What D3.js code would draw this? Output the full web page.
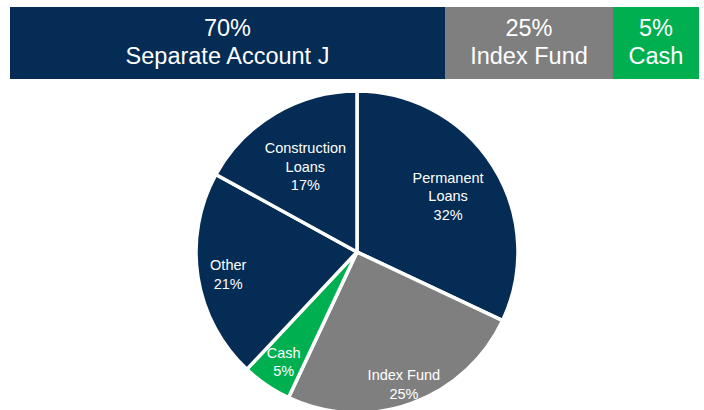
<!DOCTYPE html>
<html>
<head>
<meta charset="utf-8">
<script src="https://cdn.jsdelivr.net/npm/d3@7"></script>
<style>
  html, body { margin: 0; padding: 0; background: #ffffff; }
  svg { display: block; }
  text { font-family: "Liberation Sans", Arial, sans-serif; fill: #ffffff; }
</style>
</head>
<body>
<svg id="chart" width="704" height="410"></svg>
<script>
// Top-level allocation bar
const barCategories = ["Separate Account J", "Index Fund", "Cash"];
const barValues = [70, 25, 5];

// Breakdown pie (clockwise from 12 o'clock)
const pieCategories = [["Permanent", "Loans"], ["Index Fund"], ["Cash"], ["Other"], ["Construction", "Loans"]];
const pieValues = [32, 25, 5, 21, 17];

const navy = "#052c55", gray = "#7f7f7f", green = "#00b050";
const barColors = [navy, gray, green];
const pieColors = [navy, gray, green, navy, navy];
// How far out along each slice's bisector its label sits (fraction of radius)
const labelRadiusFrac = [0.67, 0.86, 0.81, 0.81, 0.63];

const svg = d3.select("#chart");

// ---- allocation bar ----
// Segments are sized for legibility: cumulative share is mapped piecewise so the
// narrow segments still hold their labels.
const cum = [0];
barValues.forEach(v => cum.push(cum[cum.length - 1] + v));
const x = d3.scaleLinear().domain(cum).range([10, 445, 613, 699]);
const barTop = 7, barH = 72;

const seg = svg.append("g").selectAll("g")
  .data(barValues.map((v, i) => ({ v, i, x0: cum[i], x1: cum[i + 1] })))
  .join("g");

seg.append("rect")
  .attr("x", d => x(d.x0))
  .attr("y", barTop)
  .attr("width", d => x(d.x1) - x(d.x0))
  .attr("height", barH)
  .attr("fill", d => barColors[d.i]);

seg.append("text")
  .attr("x", d => (x(d.x0) + x(d.x1)) / 2)
  .attr("y", barTop + 29)
  .attr("text-anchor", "middle")
  .style("font-size", "23.5px")
  .text(d => d.v + "%");

seg.append("text")
  .attr("x", d => (x(d.x0) + x(d.x1)) / 2)
  .attr("y", barTop + 57)
  .attr("text-anchor", "middle")
  .style("font-size", "23.5px")
  .text(d => barCategories[d.i]);

// ---- pie ----
const cx = 357, cy = 252, R = 161;
const pie = d3.pie().sort(null).startAngle(0).endAngle(2 * Math.PI)(pieValues);
const arc = d3.arc().innerRadius(0).outerRadius(R);

const pg = svg.append("g").attr("transform", `translate(${cx},${cy})`);

pg.selectAll("path")
  .data(pie)
  .join("path")
  .attr("d", arc)
  .attr("fill", (d, i) => pieColors[i])
  .attr("stroke", "#ffffff")
  .attr("stroke-width", 3.5)
  .attr("stroke-linejoin", "miter");

const lineH = 18.5;
const labels = pg.selectAll("g.lbl")
  .data(pie)
  .join("g")
  .attr("class", "lbl")
  .attr("transform", (d, i) => {
    const a = (d.startAngle + d.endAngle) / 2;
    const r = R * labelRadiusFrac[i];
    return `translate(${r * Math.sin(a)},${-r * Math.cos(a)})`;
  });

labels.each(function (d, i) {
  const lines = pieCategories[i].concat([d.value + "%"]);
  const g = d3.select(this);
  const n = lines.length;
  lines.forEach((t, k) => {
    g.append("text")
      .attr("x", 0)
      .attr("y", (k - (n - 1) / 2) * lineH + 7)
      .attr("text-anchor", "middle")
      .style("font-size", "14.5px")
      .text(t);
  });
});
</script>
</body>
</html>
